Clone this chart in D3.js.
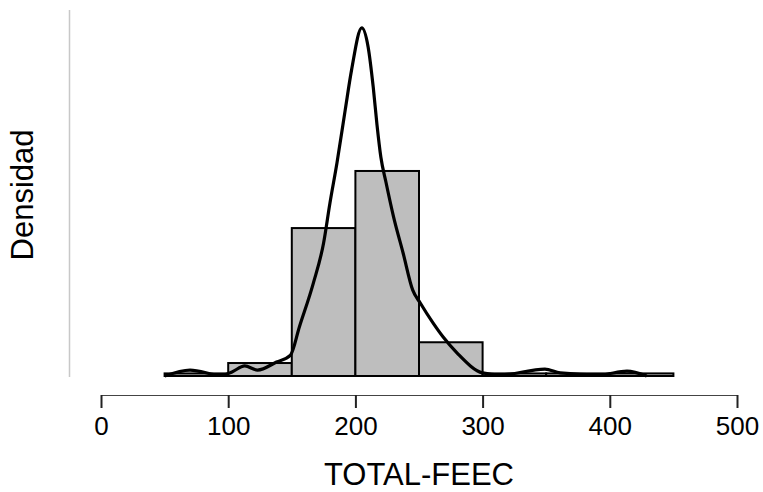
<!DOCTYPE html>
<html>
<head>
<meta charset="utf-8">
<script src="https://cdn.jsdelivr.net/npm/d3@7"></script>
<style>
  body { margin: 0; background: #fff; }
  text { font-family: "Liberation Sans", Arial, sans-serif; fill: #000; }
</style>
</head>
<body>
<script>
// histogram bins (TOTAL-FEEC) and counts
var binEdges = [50, 100, 150, 200, 250, 300, 350, 400, 450]
var binCounts = [1, 5, 57, 79, 13, 1, 1, 1]

// kernel density estimate
var densX = [50, 70, 95, 103, 113, 123, 138, 149, 156, 167, 175, 180, 185.5, 192, 197, 205, 210, 214, 217, 220, 224, 230, 237.5, 245, 251, 261, 269, 280, 300, 314, 349, 361, 392, 413.5, 429]
var densY = [0, 0.00029, 0.00003, 0.0002, 0.00049, 0.00029, 0.00068, 0.00102, 0.0024, 0.00454, 0.00649, 0.00844, 0.01039, 0.01298, 0.01493, 0.01698, 0.01605, 0.0141, 0.01224, 0.01068, 0.00946, 0.00776, 0.006, 0.0042, 0.00356, 0.00259, 0.0019, 0.00112, 0.00015, 0.00005, 0.00034, 0.00015, 0.00005, 0.00024, 0]

var xTicks = [0, 100, 200, 300, 400, 500]

let width = 763
let height = 492

var total = d3.sum(binCounts)
var bins = binCounts.map((c, i) => ({ x0: binEdges[i], x1: binEdges[i + 1], d: c / (total * (binEdges[i + 1] - binEdges[i])) }))
var dens = densX.map((v, i) => [v, densY[i]])

var x = d3.scaleLinear().domain([0, 500]).range([101, 737])
var y = d3.scaleLinear().domain([0, 0.0179]).range([376, 9])

let svg = d3.select("body").append("svg")
    .attr("width", width)
    .attr("height", height)

// y axis line only (light grey, no ticks)
svg.append("line")
    .attr("x1", 69.5).attr("x2", 69.5)
    .attr("y1", 10).attr("y2", 377)
    .attr("stroke", "#c8c8c8")
    .attr("stroke-width", 1.5)

// bars
svg.selectAll("rect.bar")
    .data(bins).enter()
    .append("rect")
    .attr("class", "bar")
    .attr("x", d => x(d.x0))
    .attr("width", d => x(d.x1) - x(d.x0))
    .attr("y", d => y(d.d))
    .attr("height", d => y(0) - y(d.d))
    .style("fill", "#bebebe")
    .style("stroke", "#000")
    .style("stroke-width", 2)

// density line
var line = d3.line()
    .x(d => x(d[0]))
    .y(d => y(d[1]))
    .curve(d3.curveMonotoneX)

svg.append("path")
    .datum(dens)
    .attr("d", line)
    .style("fill", "none")
    .style("stroke", "#000")
    .style("stroke-width", 3.2)
    .style("stroke-linejoin", "round")

// x axis
let xAxis = svg.append("g")
    .attr("transform", "translate(0,395)")
    .call(d3.axisBottom(x).tickValues(xTicks).tickSize(13).tickSizeOuter(0).tickPadding(9))
xAxis.select(".domain").attr("stroke", "#444").attr("stroke-width", 1.2)
xAxis.selectAll(".tick line").attr("stroke", "#222").attr("stroke-width", 2)
xAxis.selectAll(".tick text").style("font-size", "26px")

svg.append("text")
    .attr("x", 419)
    .attr("y", 485)
    .attr("text-anchor", "middle")
    .style("font-size", "31px")
    .text("TOTAL-FEEC")

svg.append("text")
    .attr("transform", "translate(33,195) rotate(-90)")
    .attr("text-anchor", "middle")
    .style("font-size", "31px")
    .text("Densidad")
</script>
</body>
</html>
